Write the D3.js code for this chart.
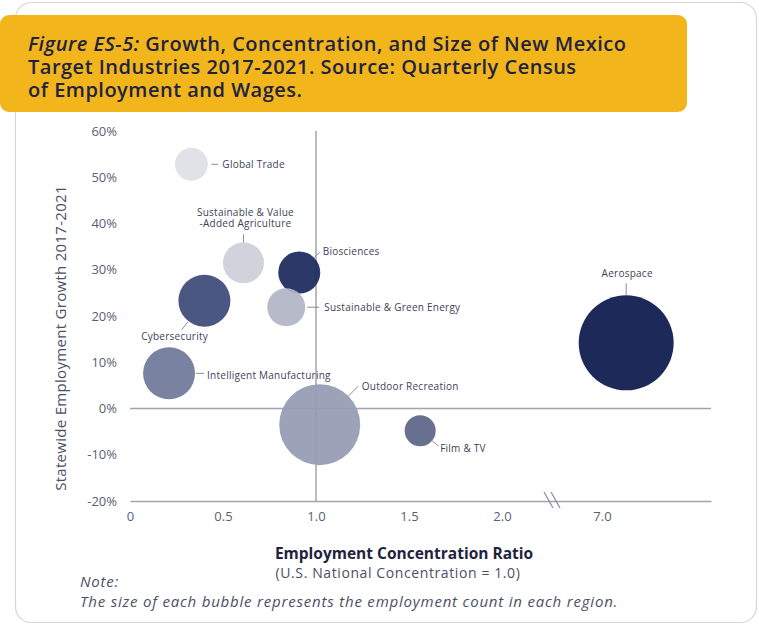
<!DOCTYPE html>
<html>
<head>
<meta charset="utf-8">
<script src="https://cdn.jsdelivr.net/npm/d3@7"></script>
<style>
  body { margin: 0; background: #fff; }
  svg { display: block; font-family: 'Open Sans', sans-serif; }
</style>
</head>
<body>
<script>
// Data
const INDUSTRIES = [
  'Global Trade',
  'Sustainable & Value-Added Agriculture',
  'Biosciences',
  'Cybersecurity',
  'Sustainable & Green Energy',
  'Intelligent Manufacturing',
  'Outdoor Recreation',
  'Film & TV',
  'Aerospace'
]
const CONCENTRATION = [0.33, 0.61, 0.91, 0.40, 0.84, 0.21, 1.02, 1.56, 7.13]
const GROWTH = [0.528, 0.315, 0.294, 0.233, 0.219, 0.076, -0.035, -0.048, 0.142]
// relative employment count (drives bubble area)
const EMPLOYMENT = [272, 420, 441, 676, 361, 676, 1640, 240, 2256]
const X_TICKS = [0, 0.5, 1.0, 1.5, 2.0, 7.0]
const X_TICK_LABELS = ['0', '0.5', '1.0', '1.5', '2.0', '7.0']
const Y_TICKS = [-0.2, -0.1, 0, 0.1, 0.2, 0.3, 0.4, 0.5, 0.6]

// Styles
const COLORS = ['#dfe0e6', '#ccd0d8', '#1b295d', '#3d4a7a', '#b2b6c5', '#70799a', '#959bb3', '#5d6587', '#0b194c']
const AXIS_COLOR = '#a0a3b0'
const TEXT_COLOR = '#3d4258'

// Label placement: leader angle (deg), gap from edge, leader length, text offset
const LABELS = [
  { angle: 0, gap: 3.5, len: 6.5, dx: 4.5, dy: 0, anchor: 'start' },
  { angle: -90, gap: 0, len: 8, dx: 2, dy: -10.5, anchor: 'middle', lines: ['Sustainable & Value', '-Added Agriculture'] },
  { angle: -45, gap: 0, len: 8, dx: 3, dy: -1, anchor: 'start' },
  { angle: 128, gap: 1, len: 10, dx: -7, dy: 7, anchor: 'middle' },
  { angle: 0, gap: 2, len: 12, dx: 5, dy: 0, anchor: 'start' },
  { angle: 0, gap: 1, len: 8, dx: 3, dy: 2, anchor: 'start' },
  { angle: -45, gap: 0, len: 14, dx: 3.5, dy: 0, anchor: 'start' },
  { angle: 40, gap: 0, len: 8, dx: 2, dy: 3, anchor: 'start' },
  { angle: -90, gap: 0, len: 12, dx: 1, dy: -10, anchor: 'middle' }
]

const width = 759
const height = 627
const plotLeft = 130
const plotRight = 711
const plotTop = 131
const plotBottom = 501
const unit = (316 - plotLeft) / 1.0
const breakX = 553

const svg = d3.select('body').append('svg')
  .attr('width', width)
  .attr('height', height)

// Card
svg.append('rect')
  .attr('x', 15.5).attr('y', 2.5)
  .attr('width', 741).attr('height', 620)
  .attr('rx', 16)
  .attr('fill', '#fff')
  .attr('stroke', '#d6d6db')
  .attr('stroke-width', 1.2)

// Title banner
svg.append('rect')
  .attr('x', 0).attr('y', 15)
  .attr('width', 687).attr('height', 97)
  .attr('rx', 9)
  .attr('fill', '#f2b51c')

const title = svg.append('text')
  .attr('x', 28)
  .attr('fill', '#1e2340')
  .style('font-size', '20px')
  .style('font-weight', 600)
  .style('letter-spacing', '0.5px')
const line1 = title.append('tspan').attr('x', 28).attr('y', 51)
line1.append('tspan').style('font-style', 'italic').text('Figure ES-5:')
line1.append('tspan').text(' Growth, Concentration, and Size of New Mexico')
title.append('tspan').attr('x', 28).attr('y', 74).text('Target Industries 2017-2021. Source: Quarterly Census')
title.append('tspan').attr('x', 28).attr('y', 97).text('of Employment and Wages.')

// Scales (x has a break between 2.0 and 7.0)
const lowEnd = 2.0 + (breakX - (plotLeft + 2 * unit)) / unit
const highStart = 7.0 - (602 - breakX) / unit
const highEnd = 7.0 + (plotRight - 602) / unit
const x = d3.scaleLinear()
  .domain([0, lowEnd, highStart, highEnd])
  .range([plotLeft, breakX, breakX, plotRight])
const y = d3.scaleLinear()
  .domain([-0.2, 0.6])
  .range([plotBottom, plotTop])
const r = d3.scaleSqrt()
  .domain([0, d3.max(EMPLOYMENT)])
  .range([0, 47.5])

// Axes
const xAxis = svg.append('g')
  .attr('transform', `translate(0,${plotBottom})`)
  .call(d3.axisBottom(x).tickValues(X_TICKS).tickFormat((_, i) => X_TICK_LABELS[i]).tickSize(0).tickSizeOuter(0).tickPadding(11))
xAxis.select('.domain').attr('stroke', AXIS_COLOR).attr('stroke-width', 1.5)
xAxis.selectAll('text').attr('fill', '#5a5f73').style('font-size', '13px').style('font-family', 'Open Sans')

const yAxis = svg.append('g')
  .attr('transform', `translate(${plotLeft},0)`)
  .call(d3.axisLeft(y).tickValues(Y_TICKS).tickFormat(d => Math.round(d * 100) + '%').tickSize(0).tickPadding(13))
yAxis.select('.domain').remove()
yAxis.selectAll('text').attr('fill', '#5a5f73').style('font-size', '13px').style('font-family', 'Open Sans')

// Axis break mark
svg.append('g')
  .selectAll('line')
  .data([-4, 3])
  .enter()
  .append('line')
  .attr('x1', d => breakX + d - 5)
  .attr('y1', plotBottom - 9)
  .attr('x2', d => breakX + d + 4)
  .attr('y2', plotBottom + 7)
  .attr('stroke', '#8a8e9c')
  .attr('stroke-width', 1.2)

// Reference lines
svg.append('line')
  .attr('x1', x(1.0)).attr('x2', x(1.0))
  .attr('y1', y(0.6)).attr('y2', y(-0.2))
  .attr('stroke', AXIS_COLOR).attr('stroke-width', 1.5)
svg.append('line')
  .attr('x1', plotLeft).attr('x2', plotRight)
  .attr('y1', y(0)).attr('y2', y(0))
  .attr('stroke', AXIS_COLOR).attr('stroke-width', 1.5)

// Bubbles
const data = INDUSTRIES.map((name, i) => ({
  name,
  cx: x(CONCENTRATION[i]),
  cy: y(GROWTH[i]),
  r: r(EMPLOYMENT[i]),
  color: COLORS[i],
  label: LABELS[i]
}))

svg.append('g')
  .selectAll('circle')
  .data(data)
  .enter()
  .append('circle')
  .attr('cx', d => d.cx)
  .attr('cy', d => d.cy)
  .attr('r', d => d.r)
  .attr('fill', d => d.color)
  .attr('fill-opacity', 0.93)

// Labels with leader lines
const labels = svg.append('g')
data.forEach(d => {
  const l = d.label
  const a = l.angle * Math.PI / 180
  const x1 = d.cx + Math.cos(a) * (d.r + l.gap)
  const y1 = d.cy + Math.sin(a) * (d.r + l.gap)
  const x2 = x1 + Math.cos(a) * l.len
  const y2 = y1 + Math.sin(a) * l.len
  labels.append('line')
    .attr('x1', x1).attr('y1', y1)
    .attr('x2', x2).attr('y2', y2)
    .attr('stroke', '#8a8e9c')
    .attr('stroke-width', 1)
  const lines = l.lines || [d.name]
  const t = labels.append('text')
    .attr('text-anchor', l.anchor)
    .attr('fill', TEXT_COLOR)
    .style('font-size', '10px')
    .style('letter-spacing', '0.25px')
  lines.forEach((s, k) => {
    t.append('tspan')
      .attr('x', x2 + l.dx)
      .attr('y', y2 + l.dy - (lines.length - 1 - k) * 11.5)
      .attr('dy', '0.35em')
      .text(s)
  })
})

// Axis titles
svg.append('text')
  .attr('transform', `translate(61,${(184 + 492) / 2}) rotate(-90)`)
  .attr('text-anchor', 'middle')
  .attr('dy', '0.35em')
  .attr('fill', '#4a4f65')
  .style('font-size', '15px')
  .style('letter-spacing', '0.3px')
  .text('Statewide Employment Growth 2017-2021')

svg.append('text')
  .attr('x', 404).attr('y', 559)
  .attr('text-anchor', 'middle')
  .attr('fill', '#1e2340')
  .style('font-size', '15.5px')
  .style('font-weight', 700)
  .text('Employment Concentration Ratio')

svg.append('text')
  .attr('x', 398).attr('y', 578)
  .attr('text-anchor', 'middle')
  .attr('fill', '#4a4f65')
  .style('font-size', '14px')
  .style('letter-spacing', '0.6px')
  .text('(U.S. National Concentration = 1.0)')

// Note
const note = svg.append('text')
  .attr('fill', '#4a4f65')
  .style('font-size', '15px')
  .style('font-style', 'italic')
  .style('letter-spacing', '0.8px')
note.append('tspan').attr('x', 80).attr('y', 587).text('Note:')
note.append('tspan').attr('x', 80).attr('y', 607).text('The size of each bubble represents the employment count in each region.')
</script>
</body>
</html>
